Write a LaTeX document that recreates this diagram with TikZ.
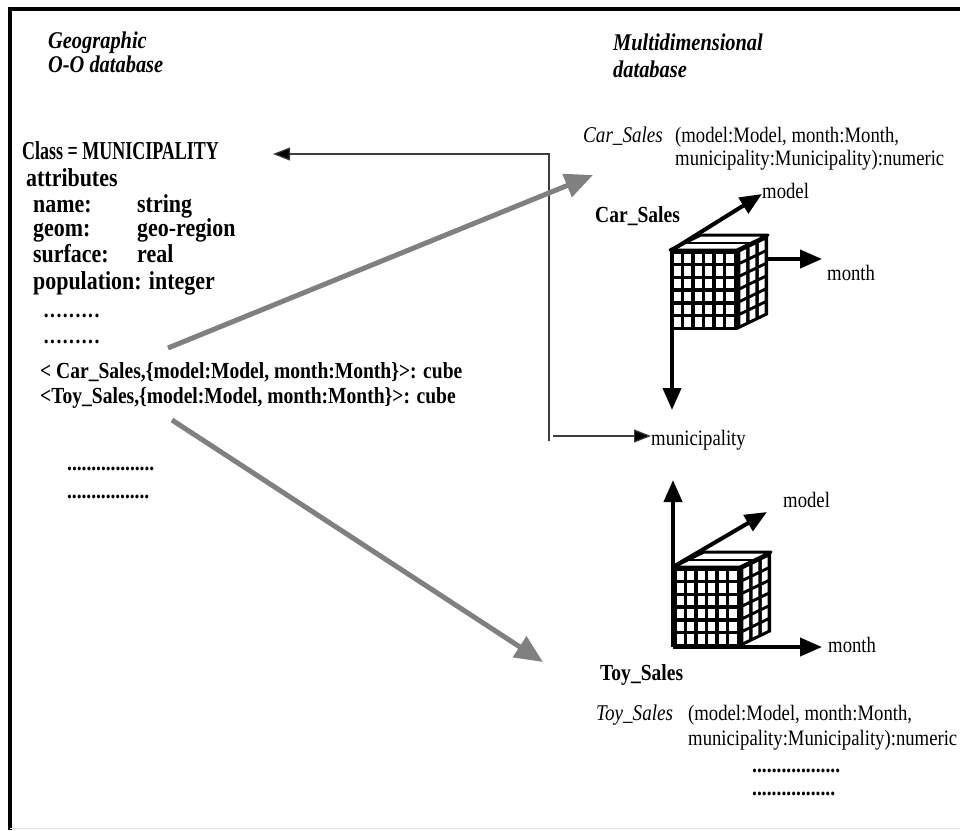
\documentclass[tikz,border=0pt]{standalone}
\usepackage{fontspec}
\usepackage{graphicx}
\setmainfont{Liberation Serif}[FakeStretch=0.85]
\usetikzlibrary{arrows.meta}
\definecolor{arrowgray}{HTML}{808080}
\definecolor{linkgray}{HTML}{3C3C3C}
% a row of #1 evenly spaced periods filling width #2
\newcommand\dotrow[2]{\hbox to #2{\leaders\hbox to \dimexpr #2/#1\relax{\hss.\hss}\hfill}}

\tikzset{
  txt/.style={inner sep=0pt, anchor=base west},
  hd/.style={txt, font=\fontsize{24}{28}\selectfont\bfseries\itshape},
  bl/.style={txt, font=\fontsize{23}{27}\selectfont\bfseries},
  blbig/.style={txt, font=\fontsize{25.8}{28}\selectfont\bfseries},
  rg/.style={txt, font=\fontsize{22}{24}\selectfont},
  itl/.style={txt, font=\fontsize{22.5}{24}\selectfont\itshape},
  axis/.style={line width=4pt, -{Triangle[length=22pt,width=18pt]}},
  grayarrow/.style={draw=arrowgray, line width=5pt, -{Triangle[length=28pt,width=24pt]}},
  link/.style={draw=linkgray, line width=1.2pt},
  linkarrow/.style={link, -{Triangle[length=17pt,width=13pt,fill=black]}},
  % data cube: origin at the front-bottom-left corner
  gridcube/.pic={
    \fill[black] (0,0) rectangle (67,-80);
    \foreach \i in {0,...,5}{\foreach \j in {0,...,5}{
      \fill[white] ({3.5+\i*10.583},{-3.5-\j*12.75}) rectangle ++(7.08,-9.25);}}
    \fill[black] (67,0) -- (98,-15) -- (98,-95) -- (67,-80) -- cycle;
    \foreach \i in {0,1,2}{\foreach \j in {0,...,5}{
      \pgfmathsetmacro\ua{0.11+\i*0.297}
      \pgfmathsetmacro\ub{\ua+0.187}
      \pgfmathsetmacro\va{0.044+\j*0.159}
      \pgfmathsetmacro\vb{\va+0.115}
      \fill[white] ({67+31*\ua},{-15*\ua-80*\va}) -- ({67+31*\ub},{-15*\ub-80*\va})
        -- ({67+31*\ub},{-15*\ub-80*\vb}) -- ({67+31*\ua},{-15*\ua-80*\vb}) -- cycle;}}
    \filldraw[fill=white, draw=black, line width=3pt, line join=round]
      (0,-80) -- (67,-80) -- (98,-95) -- (31,-95) -- cycle;
    \draw[line width=2pt] (15.5,-87.5) -- (82.5,-87.5);
  }
}

\begin{document}
\begin{tikzpicture}[x=1pt, y=-1pt]
\useasboundingbox (0,0) rectangle (960,830);
\fill[white] (0,0) rectangle (960,830);

% frame
\draw[line width=4.5pt] (8,9) -- (960,9);
\draw[line width=4.5pt] (10,7) -- (10,830);
\draw[black!12, line width=1.5pt] (10,828.5) -- (960,828.5);

% headings
\node[hd] (geo1) at (48,48) {Geographic};
\node[hd] (geo2) at (48,72) {O-O database};
\node[hd] (md1) at (613,50) {Multidimensional};
\node[hd] (md2) at (613,77) {database};

% class description
\node[blbig] (cls) at (22,159) {\scalebox{0.82}[1]{Class = MUNICIPALITY}};
\node[blbig] (attr) at (26,186) {attributes};
\node[blbig] (a1) at (33,212) {\makebox[104pt][l]{name:}string};
\node[blbig] (a2) at (33,236) {\makebox[104pt][l]{geom:}geo-region};
\node[blbig] (a3) at (33,262) {\makebox[104pt][l]{surface:}real};
\node[blbig] (a4) at (33,289) {population: integer};
\node[bl] (d1) at (43,317) {\dotrow{9}{57pt}};
\node[bl] (d2) at (43,343) {\dotrow{9}{57pt}};
\node[bl] (cs) at (40,378) {< Car\_Sales,\{model:Model, month:Month\}>: cube};
\node[bl] (ts) at (40,403) {<Toy\_Sales,\{model:Model, month:Month\}>: cube};
\node[bl] (d3) at (67,470) {\dotrow{18}{87pt}};
\node[bl] (d4) at (67,498) {\dotrow{17}{82pt}};

% Car_Sales cube
\node[itl] (csi) at (583,142) {Car\_Sales};
\node[rg] (csd1) at (675,142) {(model:Model, month:Month,};
\node[rg] (csd2) at (675,165) {municipality:Municipality):numeric};
\node[bl] (csb) at (595,222) {Car\_Sales};
\node[rg] (cmodel) at (762,198) {model};
\node[rg] (cmonth) at (827,280) {month};
\pic at (670,330) {gridcube};
\coordinate (cO) at (672,250);
\coordinate (cModel) at (762,194);
\coordinate (cMonthA) at (766,259);
\coordinate (cMonth) at (822,259);
\coordinate (cMuni) at (672,410);
\draw[axis] (cO) -- (cModel);
\draw[axis] (cMonthA) -- (cMonth);
\draw[axis] (cO) -- (cMuni);

% shared dimension
\node[rg] (muni) at (651,445) {municipality};

% Toy_Sales cube
\pic at (673,647) {gridcube};
\coordinate (tO) at (673,647);
\coordinate (tTop) at (673,567);
\coordinate (tUp) at (673,480);
\coordinate (tModel) at (767,512);
\coordinate (tMonth) at (822,647);
\draw[axis] (tO) -- (tUp);
\draw[axis] (tTop) -- (tModel);
\draw[axis] (tO) -- (tMonth);
\node[rg] (tmodel) at (783,507) {model};
\node[rg] (tmonth) at (828,652) {month};
\node[bl] (tsb) at (600,680) {Toy\_Sales};
\node[itl] (tsi) at (596,720) {Toy\_Sales};
\node[rg] (tsd1) at (688,720) {(model:Model, month:Month,};
\node[rg] (tsd2) at (688,745) {municipality:Municipality):numeric};
\node[bl] (d5) at (752,772) {\dotrow{18}{88pt}};
\node[bl] (d6) at (752,795) {\dotrow{17}{83pt}};

% municipality dimension linked to the class
\coordinate (jLow) at (549,441);
\coordinate (jHigh) at (549,154);
\coordinate (clsTip) at (273,154);
\coordinate (jMuni) at (553,436);
\draw[linkarrow] (jLow) -- (jHigh) -- (clsTip);
\draw[linkarrow] (jMuni) -- (jMuni -| muni.west);

% cube attributes mapped to cubes
\coordinate (g1s) at (168,348);
\coordinate (g1e) at (593,175);
\coordinate (g2s) at (172,420);
\coordinate (g2e) at (543,662);
\draw[grayarrow] (g1s) -- (g1e);
\draw[grayarrow] (g2s) -- (g2e);
\end{tikzpicture}
\end{document}
